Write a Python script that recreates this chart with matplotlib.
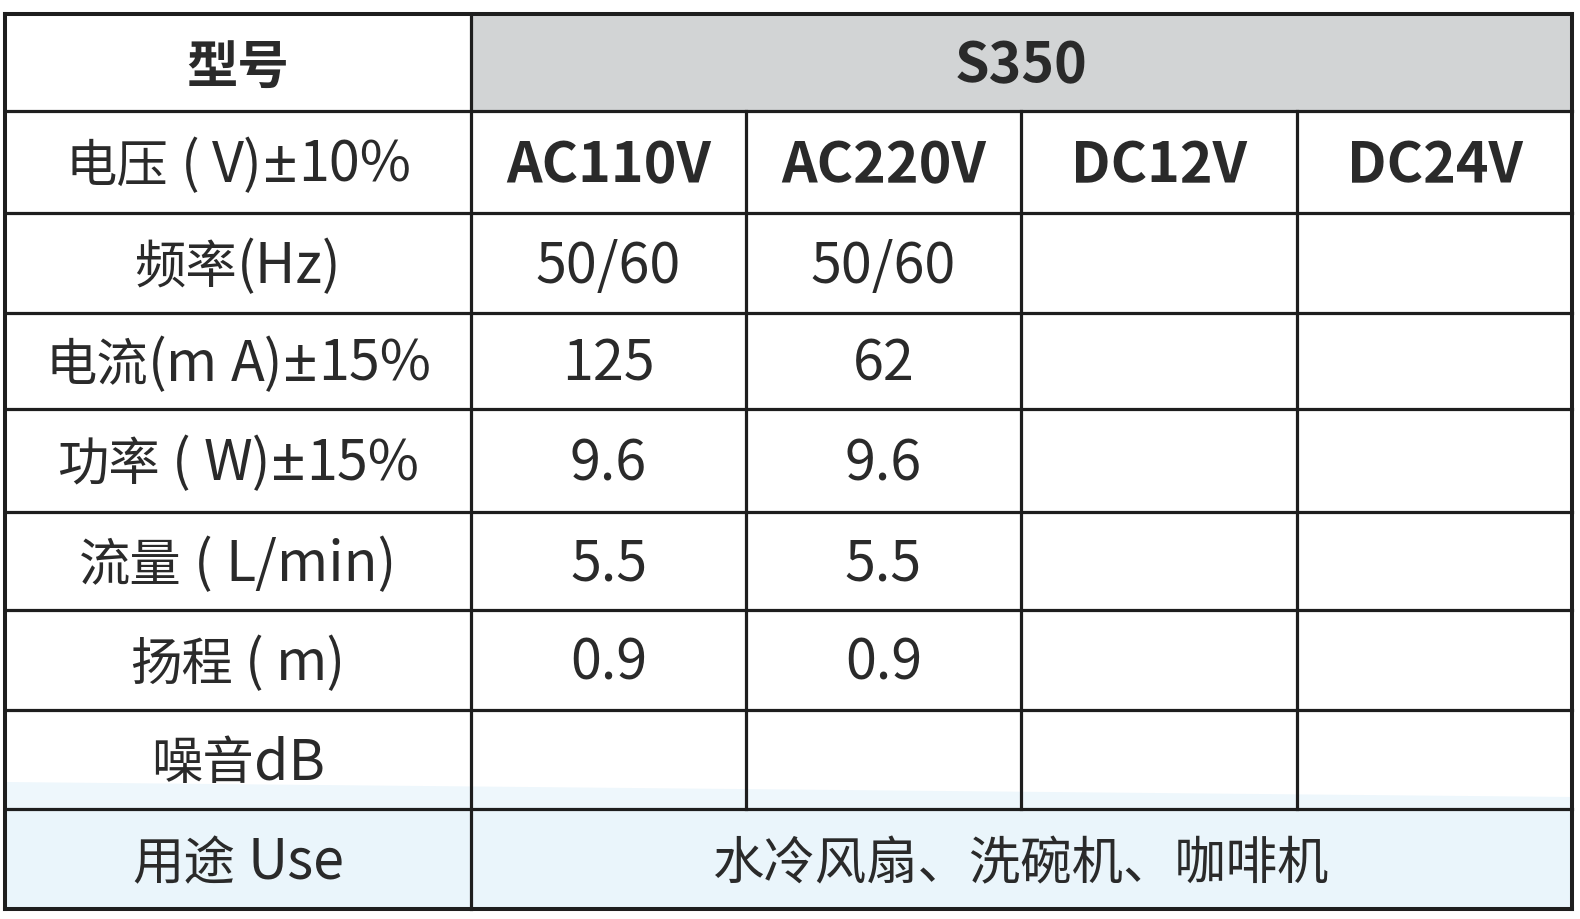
import matplotlib
matplotlib.use("Agg")
import matplotlib.pyplot as plt
from matplotlib.patches import Rectangle, Polygon

plt.rcParams['font.family'] = ['Noto Sans CJK SC', 'DejaVu Sans']

# ---- data ----
model_label = "型号"
model_name = "S350"
voltage_label = "电压 ( V)±10%"
voltages = ["AC110V", "AC220V", "DC12V", "DC24V"]
row_labels = ["频率(Hz)", "电流(m A)±15%", "功率 ( W)±15%", "流量 ( L/min)", "扬程 ( m)", "噪音dB"]
freq = ["50/60", "50/60", "", ""]
current = ["125", "62", "", ""]
power = ["9.6", "9.6", "", ""]
flow = ["5.5", "5.5", "", ""]
head = ["0.9", "0.9", "", ""]
noise = ["", "", "", ""]
use_label = "用途 Use"
use_text = "水冷风扇、洗碗机、咖啡机"

body = [freq, current, power, flow, head, noise]

# ---- layout (pixels) ----
W, H = 1580, 920
col_x = [5, 471, 746, 1021, 1297, 1572]
row_y = [15, 112, 214, 314, 410, 513, 611, 711, 810, 910]

fig = plt.figure(figsize=(W / 100, H / 100), dpi=100)
ax = fig.add_axes([0, 0, 1, 1])
ax.set_xlim(0, W)
ax.set_ylim(H, 0)
ax.axis('off')

txt_color = "#2a2a2a"
line_color = "#1e1e1e"
lw = 2.3
fs_cjk = 37
fs_lat = 40
fs_pm = 44
CJK = 'Noto Sans CJK SC'

# fills
ax.add_patch(Rectangle((col_x[1], row_y[0]), col_x[5] - col_x[1], row_y[1] - row_y[0],
                       facecolor="#d2d4d5", edgecolor="none", zorder=1))
ax.add_patch(Rectangle((col_x[0], row_y[8]), col_x[5] - col_x[0], row_y[9] - row_y[8],
                       facecolor="#eaf5fb", edgecolor="none", zorder=1))
ax.add_patch(Polygon([(col_x[0], 783), (col_x[5], 798), (col_x[5], row_y[8]), (col_x[0], row_y[8])],
                     closed=True, facecolor="#eef7fc", edgecolor="none", zorder=1))

# grid lines
def hline(y, x0, x1, w=lw):
    ax.plot([x0, x1], [y, y], color=line_color, lw=w, solid_capstyle='projecting', zorder=3)

def vline(x, y0, y1, w=lw):
    ax.plot([x, x], [y0, y1], color=line_color, lw=w, solid_capstyle='projecting', zorder=3)

for y in row_y:
    hline(y, col_x[0], col_x[5], w=lw + (0.6 if y in (row_y[0], row_y[-1]) else 0))
vline(col_x[0], row_y[0], row_y[-1], w=lw + 0.6)
vline(col_x[5], row_y[0], row_y[-1], w=lw + 0.6)
vline(col_x[1], row_y[0], row_y[-1])
for x in col_x[2:5]:
    vline(x, row_y[1], row_y[8])

renderer = fig.canvas.get_renderer()


def kind(ch):
    if ch == ' ':
        return 'sp'
    if ch == '±':
        return 'pm'
    if ord(ch) >= 0x2E80:
        return 'cjk'
    return 'lat'


def style(k):
    if k == 'cjk':
        return dict(fontsize=fs_cjk, family=[CJK, 'DejaVu Sans'])
    if k == 'pm':
        return dict(fontsize=fs_pm, family=['Noto Sans', 'DejaVu Sans'])
    return dict(fontsize=fs_lat, family=[CJK, 'DejaVu Sans'])


def runs(s):
    out = []
    for ch in s:
        k = kind(ch)
        if out and out[-1][0] == k and k != 'sp':
            out[-1][1] += ch
        else:
            out.append([k, ch])
    return out


def measure(s, weight, **kw):
    t = ax.text(0, 0, "|" + s + "|", fontweight=weight, **kw)
    t2 = ax.text(0, 0, "||", fontweight=weight, **kw)
    w = t.get_window_extent(renderer).width - t2.get_window_extent(renderer).width
    t.remove()
    t2.remove()
    return w


def cell_text(c0, c1, r, s, bold=False):
    weight = 'bold' if bold else 'normal'
    cx = (col_x[c0] + col_x[c1]) / 2
    cy = (row_y[r] + row_y[r + 1]) / 2
    base = cy + 19
    parts = []
    for k, seg in runs(s):
        if k == 'sp':
            w = measure(' ', weight, **style('lat'))
            parts.append((None, w, None))
        else:
            st = style(k)
            parts.append((seg, measure(seg, weight, **st), st))
    total = sum(p[1] for p in parts)
    x = cx - total / 2
    for seg, w, st in parts:
        if seg is not None:
            ax.text(x, base, seg, ha='left', va='baseline', color=txt_color,
                    fontweight=weight, zorder=4, **st)
        x += w


# header
cell_text(0, 1, 0, model_label, bold=True)
cell_text(1, 5, 0, model_name, bold=True)
# voltage row
cell_text(0, 1, 1, voltage_label)
for i, v in enumerate(voltages):
    cell_text(i + 1, i + 2, 1, v, bold=True)
# body rows
for r, (lab, vals) in enumerate(zip(row_labels, body)):
    cell_text(0, 1, r + 2, lab)
    for i, v in enumerate(vals):
        if v:
            cell_text(i + 1, i + 2, r + 2, v)
# use row
cell_text(0, 1, 8, use_label)
cell_text(1, 5, 8, use_text)

fig.savefig("out.png", dpi=100)
